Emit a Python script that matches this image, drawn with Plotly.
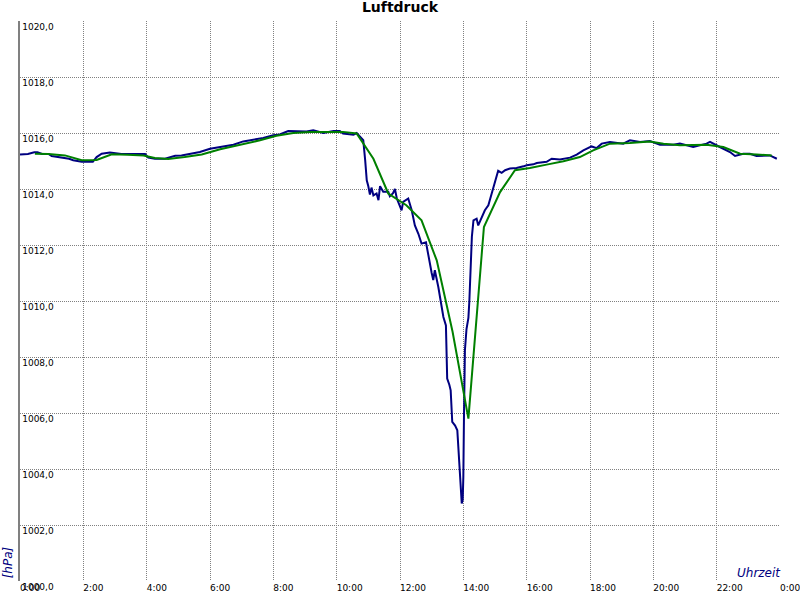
import plotly.graph_objects as go

# --- data (hours since midnight, hPa) ---
blue_time = [0.00, 0.25, 0.45, 0.55, 0.70, 0.90, 1.00, 1.20, 1.42, 1.55, 1.68, 1.95, 2.30, 2.42, 2.58, 2.84,
             3.20, 3.60, 3.95, 4.05, 4.26, 4.58, 4.90, 5.10, 5.30, 5.60, 5.68, 6.00, 6.32, 6.50, 6.74, 7.05,
             7.37, 7.68, 8.00, 8.20, 8.47, 8.84, 9.05, 9.26, 9.58, 9.90, 10.10, 10.20, 10.53, 10.63, 10.84,
             10.90, 10.95, 11.00, 11.05, 11.10, 11.16, 11.26, 11.32, 11.37, 11.47, 11.63, 11.68, 11.78, 11.84,
             11.90, 12.05, 12.10, 12.26, 12.37, 12.47, 12.58, 12.68, 12.82, 12.90, 12.95, 13.00, 13.05, 13.10,
             13.21, 13.31, 13.37, 13.45, 13.47, 13.49, 13.56, 13.60, 13.65, 13.74, 13.81, 13.84, 13.90, 13.93,
             13.95, 13.98, 14.00, 14.02, 14.05, 14.10, 14.16, 14.19, 14.22, 14.24, 14.27, 14.32, 14.42, 14.47,
             14.58, 14.68, 14.79, 14.90, 15.00, 15.10, 15.21, 15.32, 15.47, 15.68, 15.90, 16.00, 16.21, 16.32,
             16.63, 16.79, 17.05, 17.37, 17.58, 17.79, 18.05, 18.21, 18.37, 18.63, 19.05, 19.26, 19.58, 19.89,
             20.21, 20.63, 20.84, 21.26, 21.68, 21.79, 22.10, 22.42, 22.58, 22.84, 23.05, 23.26, 23.68, 23.90]
blue_value = [1015.23, 1015.25, 1015.31, 1015.31, 1015.25, 1015.25, 1015.18, 1015.15, 1015.11, 1015.08, 1015.03,
              1014.97, 1014.97, 1015.14, 1015.26, 1015.30, 1015.25, 1015.25, 1015.25, 1015.12, 1015.08, 1015.08,
              1015.19, 1015.20, 1015.24, 1015.31, 1015.32, 1015.44, 1015.50, 1015.52, 1015.58, 1015.70, 1015.76,
              1015.82, 1015.92, 1015.95, 1016.07, 1016.07, 1016.05, 1016.10, 1016.00, 1016.07, 1016.07, 1015.98,
              1015.94, 1016.00, 1015.74, 1015.03, 1014.31, 1014.10, 1013.80, 1014.05, 1013.77, 1013.84, 1013.60,
              1014.10, 1013.90, 1013.90, 1013.74, 1013.85, 1014.00, 1013.66, 1013.24, 1013.54, 1013.66, 1013.24,
              1012.70, 1012.40, 1012.05, 1012.10, 1011.57, 1011.30, 1011.00, 1010.75, 1011.10, 1010.50, 1009.80,
              1009.43, 1009.13, 1008.00, 1007.23, 1007.00, 1006.81, 1005.68, 1005.55, 1005.38, 1004.85, 1004.00,
              1003.35, 1002.77, 1002.90, 1003.71, 1005.86, 1008.24, 1009.00, 1009.40, 1010.00, 1011.00, 1011.60,
              1012.30, 1012.88, 1012.94, 1012.70, 1013.00, 1013.24, 1013.42, 1013.89, 1014.22, 1014.65, 1014.58,
              1014.67, 1014.73, 1014.75, 1014.81, 1014.85, 1014.88, 1014.93, 1014.97, 1015.08, 1015.05, 1015.12,
              1015.23, 1015.38, 1015.52, 1015.46, 1015.62, 1015.68, 1015.62, 1015.74, 1015.68, 1015.71, 1015.58,
              1015.58, 1015.62, 1015.50, 1015.62, 1015.68, 1015.50, 1015.32, 1015.18, 1015.26, 1015.26, 1015.18,
              1015.20, 1015.08]

green_time = [0.47, 0.90, 1.42, 1.95, 2.42, 2.90, 3.40, 3.90, 4.26, 4.68, 5.20, 5.74, 6.32, 6.95, 7.58, 8.10,
              8.63, 9.16, 9.70, 10.20, 10.63, 11.16, 11.63, 12.20, 12.68, 13.16, 13.66, 14.16, 14.65, 15.16,
              15.63, 16.10, 16.63, 17.16, 17.68, 18.10, 18.63, 19.26, 19.89, 20.32, 20.84, 21.68, 22.21, 22.74,
              23.26, 23.74]
green_value = [1015.26, 1015.25, 1015.20, 1015.03, 1015.04, 1015.24, 1015.22, 1015.20, 1015.11, 1015.07, 1015.14,
               1015.23, 1015.42, 1015.58, 1015.74, 1015.90, 1016.00, 1016.04, 1016.05, 1016.04, 1015.98, 1015.08,
               1013.84, 1013.42, 1012.88, 1011.45, 1008.90, 1005.80, 1012.64, 1013.89, 1014.67, 1014.75, 1014.87,
               1014.99, 1015.14, 1015.38, 1015.62, 1015.64, 1015.70, 1015.62, 1015.56, 1015.58, 1015.50, 1015.26,
               1015.23, 1015.20]

x_tickvals = [0, 2, 4, 6, 8, 10, 12, 14, 16, 18, 20, 22, 24]
x_ticktext = ["0:00", "2:00", "4:00", "6:00", "8:00", "10:00", "12:00", "14:00", "16:00",
              "18:00", "20:00", "22:00", "0:00"]
y_tickvals = [1000, 1002, 1004, 1006, 1008, 1010, 1012, 1014, 1016, 1018, 1020]

FONT = "DejaVu Sans"
GRID_DASH = "1px,1px"

fig = go.Figure()
fig.add_trace(go.Scatter(x=blue_time, y=blue_value, mode="lines",
                         line=dict(color="#000080", width=2), showlegend=False))
fig.add_trace(go.Scatter(x=green_time, y=green_value, mode="lines",
                         line=dict(color="#008000", width=2), showlegend=False))

fig.update_layout(
    width=800, height=600,
    margin=dict(l=20, r=20, t=21, b=19),
    paper_bgcolor="white", plot_bgcolor="white",
    separators=",.",
    font=dict(family=FONT, size=9, color="black"),
    title=dict(text="<b>Luftdruck</b>", x=0.5, xanchor="center", y=0.988, yanchor="middle",
               font=dict(family=FONT, size=14, color="black")),
    xaxis=dict(range=[0, 24], tickvals=x_tickvals, ticktext=x_ticktext, automargin=False,
               showgrid=True, gridcolor="#808080", griddash=GRID_DASH, gridwidth=1,
               zeroline=False, showline=False, ticks="", ticklabelposition="outside right",
               ticklabeloverflow="allow",
               tickfont=dict(family=FONT, size=9, color="black")),
    yaxis=dict(range=[1000, 1020], tickvals=y_tickvals, tickformat=".1f", automargin=False,
               showgrid=True, gridcolor="#808080", griddash=GRID_DASH, gridwidth=1,
               zeroline=False, showline=True, linecolor="#808080", linewidth=2,
               ticks="", ticklabelposition="inside bottom", ticklabeloverflow="allow",
               tickfont=dict(family=FONT, size=9, color="black")),
    annotations=[
        dict(text="<i>[hPa]</i>", xref="paper", yref="paper", x=-0.016, y=0.033,
             xanchor="center", yanchor="middle", textangle=-90, showarrow=False,
             font=dict(family=FONT, size=12, color="#000080")),
        dict(text="<i>Uhrzeit</i>", xref="paper", yref="paper", x=1.0, y=0.002,
             xanchor="right", yanchor="bottom", showarrow=False, xshift=3, yshift=-2,
             font=dict(family=FONT, size=12, color="#000080")),
    ],
)

fig.write_html("out.html", config={"displayModeBar": False},
               post_script="document.body.style.margin='0';")
